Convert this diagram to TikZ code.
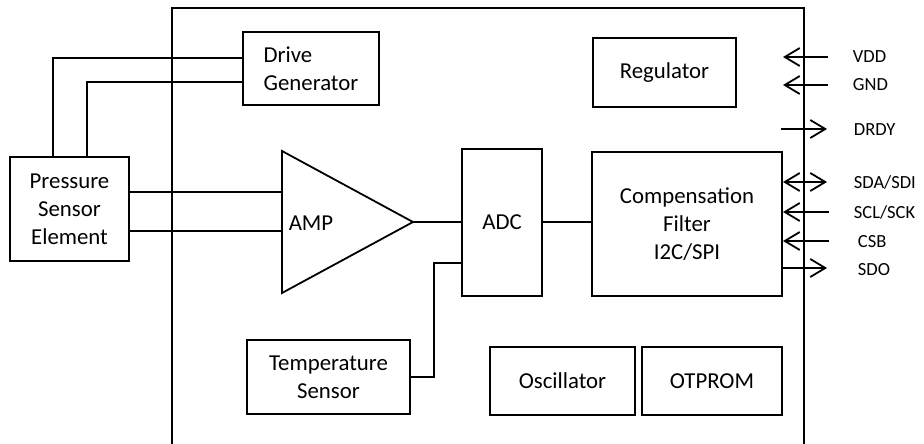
\documentclass[tikz,border=0pt]{standalone}
\usepackage{fontspec}
\setmainfont{Carlito}
\usetikzlibrary{arrows.meta}
\begin{document}
\begin{tikzpicture}[x=1pt,y=-1pt,
  line width=1.8pt,
  blk/.style={draw, line width=1.8pt, inner sep=0pt, align=center,
    font=\fontsize{22.8}{28}\selectfont},
  txt/.style={inner sep=0pt, font=\fontsize{22.8}{28}\selectfont},
  pinlbl/.style={inner sep=0pt, anchor=base west, font=\fontsize{18.5}{22}\selectfont},
  pin/.style={line width=1.8pt},
  tipb/.style={-{Straight Barb[length=15pt,width=18pt,line width=1.8pt]}},
  tipa/.style={{Straight Barb[length=15pt,width=18pt,line width=1.8pt]}-},
  tipab/.style={{Straight Barb[length=15pt,width=18pt,line width=1.8pt]}-{Straight Barb[length=15pt,width=18pt,line width=1.8pt]}}
]
\useasboundingbox (0,0) rectangle (924,444);
\fill[white] (0,0) rectangle (924,444);

% chip outline
\coordinate (chipSW) at (172,447);
\coordinate (chipNW) at (172,8);
\coordinate (chipNE) at (804,8);
\coordinate (chipSE) at (804,447);
\draw (chipSW) -- (chipNW) -- (chipNE) -- (chipSE);

% blocks
\node[blk, minimum width=136, minimum height=73, align=left] (drive) at (311,68.5) {Drive\\Generator};
\node[blk, minimum width=119, minimum height=104] (ps) at (69.5,209) {Pressure\\Sensor\\Element};
\node[blk, minimum width=143, minimum height=69] (reg) at (664.5,72.5) {Regulator};
\node[blk, minimum width=80, minimum height=147] (adc) at (502,222.5) {ADC};
\node[blk, minimum width=190, minimum height=144] (comp) at (687,224) {Compensation\\Filter\\I2C/SPI};
\node[blk, minimum width=163, minimum height=74] (temp) at (328.5,377) {Temperature\\Sensor};
\node[blk, minimum width=145, minimum height=68] (osc) at (562.5,381) {Oscillator};
\node[blk, minimum width=140, minimum height=68] (otp) at (712,381) {OTPROM};

% amplifier
\coordinate (ampT) at (282,151);
\coordinate (ampB) at (282,293);
\coordinate (ampO) at (413,222);
\draw[line join=miter] (ampT) -- (ampO) -- (ampB) -- cycle;
\node[txt] (amp) at (311,223) {AMP};

% connectors
\coordinate (x53) at (53,0);
\coordinate (x87) at (87,0);
\coordinate (y58) at (0,58);
\coordinate (y82) at (0,82);
\coordinate (y192) at (0,192);
\coordinate (y231) at (0,231);
\coordinate (y263) at (0,263);
\coordinate (x434) at (434,0);
\draw (ps.north -| x53) |- (drive.west |- y58);
\draw (ps.north -| x87) |- (drive.west |- y82);
\draw (ps.east |- y192) -- (ampT |- y192);
\draw (ps.east |- y231) -- (ampT |- y231);
\draw (ampO) -- (adc.west |- ampO);
\draw (adc.east |- ampO) -- (comp.west |- ampO);
\draw (adc.west |- y263) -| (x434 |- temp.east) -- (temp.east);

% pins
\coordinate (vddA) at (783,57);  \coordinate (vddB) at (828,57);
\coordinate (gndA) at (783,85);  \coordinate (gndB) at (828,85);
\coordinate (drdyA) at (781,129); \coordinate (drdyB) at (827,129);
\coordinate (sdaA) at (783,182); \coordinate (sdaB) at (827,182);
\coordinate (sclA) at (783,212); \coordinate (sclB) at (829,212);
\coordinate (csbA) at (783,241); \coordinate (csbB) at (829,241);
\coordinate (sdoA) at (782,268); \coordinate (sdoB) at (827,268);
\draw[pin,tipa] (vddA) -- (vddB);
\draw[pin,tipa] (gndA) -- (gndB);
\draw[pin,tipb] (drdyA) -- (drdyB);
\draw[pin,tipab] (sdaA) -- (sdaB);
\draw[pin,tipa] (sclA) -- (sclB);
\draw[pin,tipa] (csbA) -- (csbB);
\draw[pin,tipb] (sdoA) -- (sdoB);

\node[pinlbl] (lvdd) at (852,63) {VDD};
\node[pinlbl] (lgnd) at (852,91) {GND};
\node[pinlbl] (ldrdy) at (853,135) {DRDY};
\node[pinlbl] (lsda) at (853,188) {SDA/SDI};
\node[pinlbl] (lscl) at (853,218) {SCL/SCK};
\node[pinlbl] (lcsb) at (857,247) {CSB};
\node[pinlbl] (lsdo) at (857,275) {SDO};
\end{tikzpicture}
\end{document}
